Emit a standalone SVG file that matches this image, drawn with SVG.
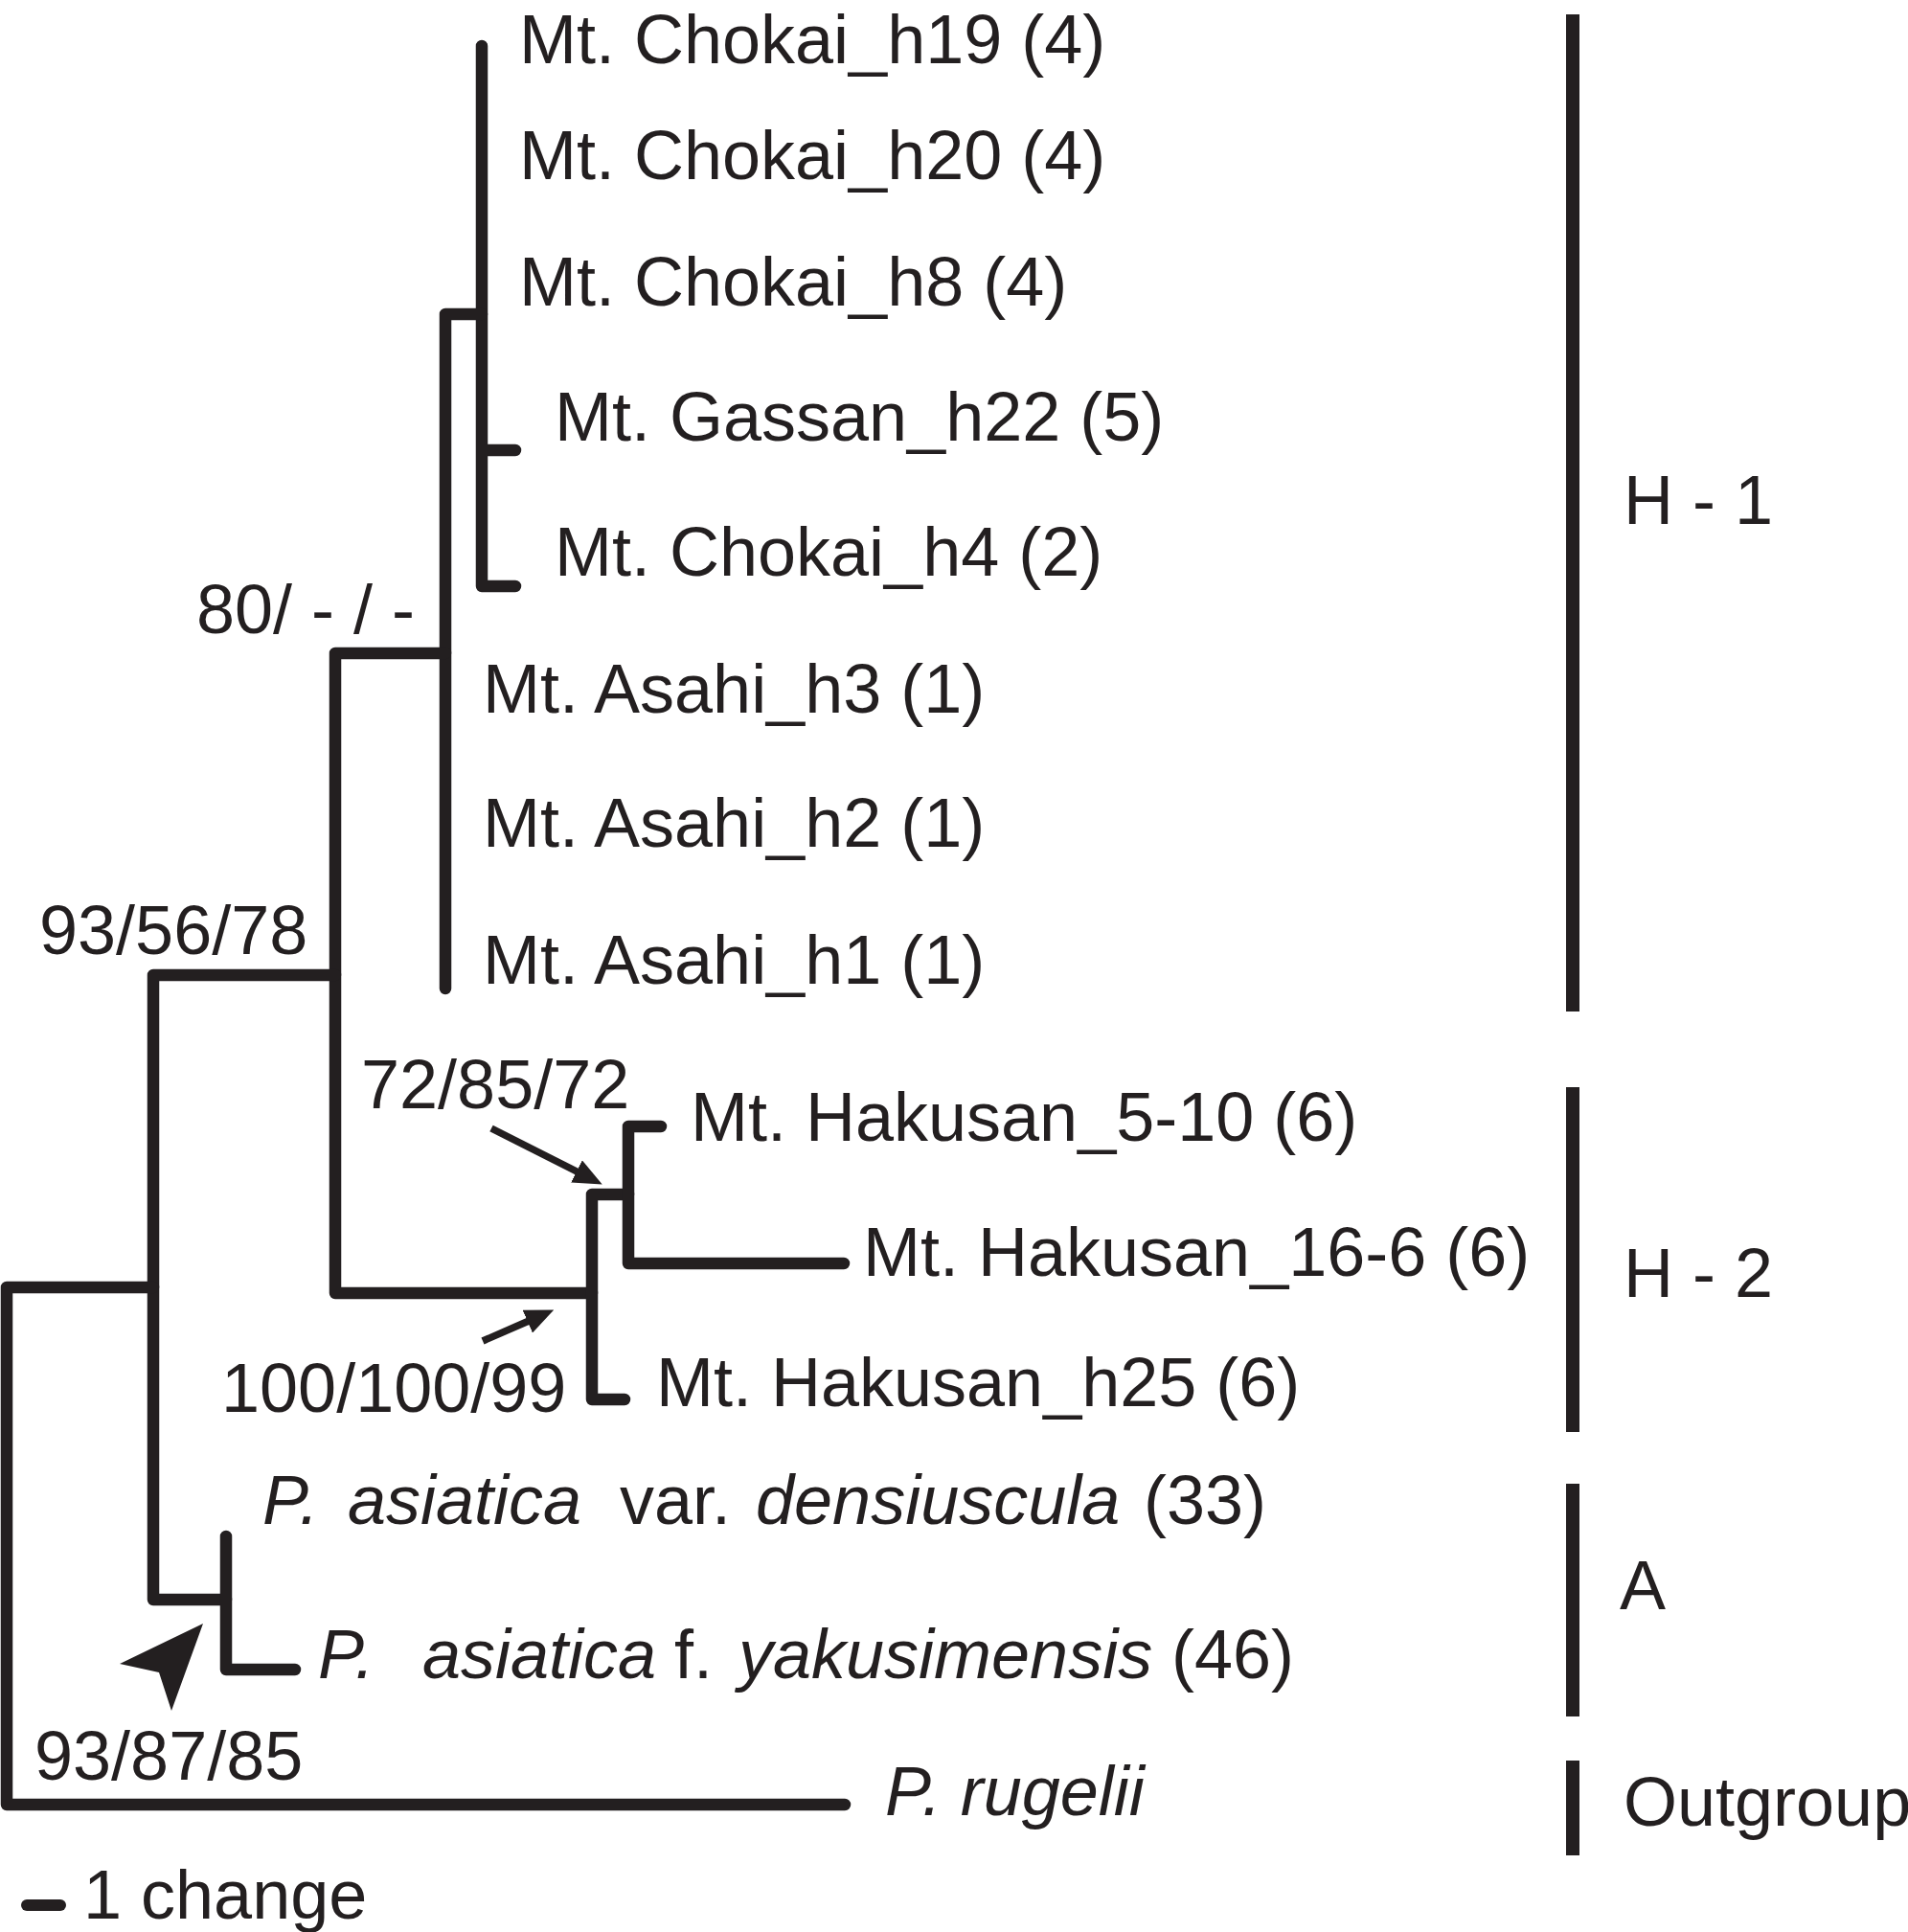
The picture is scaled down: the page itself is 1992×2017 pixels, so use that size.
<svg xmlns="http://www.w3.org/2000/svg" width="1992" height="2017" viewBox="0 0 1992 2017">
<style>
text{font-family:"Liberation Sans",Arial,sans-serif;font-size:72px;fill:#231f20}
.it{font-style:italic}
.br{fill:none;stroke:#231f20;stroke-width:12.5;stroke-linecap:round;stroke-linejoin:round}
.bar{stroke:#231f20;stroke-width:14;stroke-linecap:butt}
.arr{stroke:#231f20;stroke-width:7.5;fill:none}
</style>
<defs>
<marker id="ah" viewBox="0 0 30 26" refX="9" refY="13" markerWidth="30" markerHeight="26" markerUnits="userSpaceOnUse" orient="auto">
<path d="M0,0 L30,13 L0,26 z" fill="#231f20"/>
</marker>
</defs>
<rect width="1992" height="2017" fill="#fff"/>
<g id="connectors">
<path class="br" d="M503,48 L503,612 L538,612 M503,470 L538,470"/>
<path class="br" d="M503,328 L465,328 L465,1032"/>
<path class="br" d="M465,682 L350,682 L350,1350 L618,1350"/>
<path class="br" d="M350,1018 L160,1018 L160,1670 L236,1670"/>
<path class="br" d="M160,1344 L7,1344 L7,1884 L882,1884"/>
<path class="br" d="M236,1604 L236,1743 L308,1743"/>
<path class="br" d="M656,1247 L618,1247 L618,1461 L652,1461"/>
<path class="br" d="M690,1176 L656,1176 L656,1319 L881,1319"/>
<line class="arr" x1="513" y1="1178" x2="610" y2="1227" marker-end="url(#ah)"/>
<line class="arr" x1="504" y1="1400" x2="559" y2="1376" marker-end="url(#ah)"/>
<polygon points="125,1737 212,1695 179,1786 166,1746" fill="#231f20"/>
<line x1="28" y1="1989" x2="63" y2="1989" stroke="#231f20" stroke-width="12" stroke-linecap="round"/>
</g>
<g id="tip-chokai-h19"><text x="542" y="66">Mt. Chokai_h19 (4)</text></g>
<g id="tip-chokai-h20"><text x="542" y="187">Mt. Chokai_h20 (4)</text></g>
<g id="tip-chokai-h8"><text x="542" y="319">Mt. Chokai_h8 (4)</text></g>
<g id="tip-gassan-h22"><text x="579" y="460">Mt. Gassan_h22 (5)</text></g>
<g id="tip-chokai-h4"><text x="579" y="601">Mt. Chokai_h4 (2)</text></g>
<g id="tip-asahi-h3"><text x="504" y="744">Mt. Asahi_h3 (1)</text></g>
<g id="tip-asahi-h2"><text x="504" y="884">Mt. Asahi_h2 (1)</text></g>
<g id="tip-asahi-h1"><text x="504" y="1027">Mt. Asahi_h1 (1)</text></g>
<g id="tip-hakusan-5-10"><text x="721" y="1191">Mt. Hakusan_5-10 (6)</text></g>
<g id="tip-hakusan-16-6"><text x="901" y="1332">Mt. Hakusan_16-6 (6)</text></g>
<g id="tip-hakusan-h25"><text x="685" y="1468">Mt. Hakusan_h25 (6)</text></g>
<g id="tip-densiuscula"><text y="1591"><tspan class="it" x="274">P.</tspan><tspan class="it" x="363">asiatica</tspan><tspan x="647">var.</tspan><tspan class="it" x="789">densiuscula</tspan><tspan x="1194">(33)</tspan></text></g>
<g id="tip-yakusimensis"><text y="1752"><tspan class="it" x="332">P.</tspan><tspan class="it" x="441">asiatica</tspan><tspan x="704">f.</tspan><tspan class="it" x="771">yakusimensis</tspan><tspan x="1223">(46)</tspan></text></g>
<g id="tip-rugelii"><text class="it" x="924" y="1895">P. rugelii</text></g>
<g id="support-labels">
<text x="205" y="661">80/ - / -</text>
<text x="41" y="996">93/56/78</text>
<text x="377" y="1157">72/85/72</text>
<text x="231" y="1474">100/100/99</text>
<text x="36" y="1858">93/87/85</text>
</g>
<g id="group-h1"><line class="bar" x1="1642" y1="15" x2="1642" y2="1056"/><text x="1695" y="547">H - 1</text></g>
<g id="group-h2"><line class="bar" x1="1642" y1="1135" x2="1642" y2="1495"/><text x="1695" y="1354">H - 2</text></g>
<g id="group-a"><line class="bar" x1="1642" y1="1549" x2="1642" y2="1792"/><text x="1691" y="1680">A</text></g>
<g id="group-outgroup"><line class="bar" x1="1642" y1="1838" x2="1642" y2="1937"/><text x="1695" y="1906">Outgroup</text></g>
<g id="scale"><text x="87" y="2003">1 change</text></g>
</svg>
